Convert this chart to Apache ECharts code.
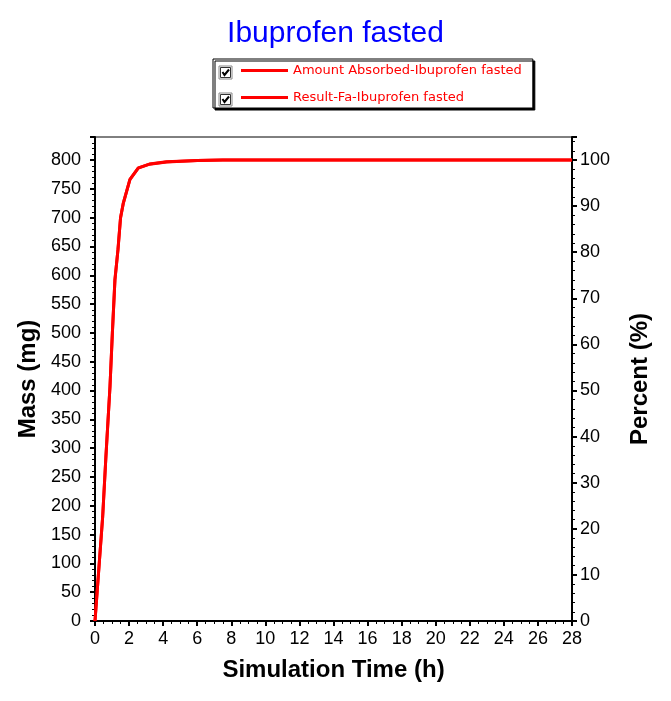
<!DOCTYPE html>
<html>
<head>
<meta charset="utf-8">
<script src="https://cdn.jsdelivr.net/npm/echarts@6/dist/echarts.min.js"></script>
<style>
  html, body { margin: 0; padding: 0; background: #fff; }
  #chart { width: 671px; height: 701px; }
</style>
</head>
<body>
<div id="chart"></div>
<script>
// simulation time (h) and values
var timeH = [0, 0.1, 0.45, 0.64, 0.88, 1.02, 1.17, 1.35, 1.5, 1.66, 2.05, 2.54, 3.2, 4.2, 6, 7.5, 28]
var massMg = [0, 0, 181, 285, 407, 500, 592, 645, 700, 725, 766, 786, 793, 797, 799, 800, 800]
var faPercent = [0, 0, 22.6, 35.6, 50.9, 62.5, 74, 80.6, 87.5, 90.6, 95.8, 98.3, 99.1, 99.6, 99.9, 100, 100]
var seriesNames = ['Amount Absorbed-Ibuprofen fasted', 'Result-Fa-Ibuprofen fasted']

function pairs(xs, ys) {
  var out = []
  for (var i = 0; i < xs.length; i++) out.push([xs[i], ys[i]])
  return out
}

var font = '"Liberation Sans", Arial, sans-serif'
var chart = echarts.init(document.getElementById('chart'))

function checkbox(y) {
  return {
    type: 'group',
    left: 218,
    top: y,
    z: 100,
    children: [
      { type: 'rect', z: 100, shape: { x: 0, y: 0, width: 13, height: 13 },
        style: { fill: '#fff', stroke: '#888', lineWidth: 1 } },
      { type: 'rect', z: 100, shape: { x: 1.5, y: 1.5, width: 10, height: 10 },
        style: { fill: 'none', stroke: '#333', lineWidth: 1 } },
      { type: 'polyline', z: 101, shape: { points: [[3.5, 6], [5.5, 9], [10, 3.5]] },
        style: { fill: 'none', stroke: '#000', lineWidth: 2 } }
    ]
  }
}

var option = {
  animation: false,
  backgroundColor: '#fff',
  title: {
    text: 'Ibuprofen fasted',
    left: 'center',
    top: 14,
    textStyle: { color: '#0000ff', fontSize: 30, fontWeight: 'normal', fontFamily: font }
  },
  legend: {
    orient: 'vertical',
    left: 213,
    top: 59,
    padding: [5, 11, 4, 28],
    itemGap: 14,
    itemWidth: 47,
    itemHeight: 3,
    icon: 'rect',
    backgroundColor: '#fff',
    borderColor: '#000',
    borderWidth: 1,
    borderRadius: 0,
    shadowColor: '#000',
    shadowBlur: 0,
    shadowOffsetX: 2,
    shadowOffsetY: 2,
    textStyle: { color: '#ff0000', fontSize: 13, fontFamily: '"DejaVu Sans", sans-serif' },
    data: seriesNames
  },
  graphic: [checkbox(65), checkbox(92)],
  grid: {
    left: 95, right: 99, top: 137, bottom: 80,
    show: true, borderColor: '#000', borderWidth: 1
  },
  xAxis: {
    type: 'value',
    min: 0, max: 28, interval: 2,
    name: 'Simulation Time (h)',
    nameLocation: 'middle',
    nameGap: 37,
    nameTextStyle: { color: '#000', fontSize: 24, fontWeight: 'bold', fontFamily: font },
    axisLine: { lineStyle: { color: '#000', width: 2 } },
    axisTick: { show: true, length: 5, lineStyle: { color: '#000', width: 2 } },
    minorTick: { show: true, splitNumber: 4, length: 3, lineStyle: { color: '#000' } },
    axisLabel: { color: '#000', fontSize: 18, fontFamily: font, margin: 9 },
    splitLine: { show: false }
  },
  yAxis: [{
    type: 'value',
    position: 'left',
    min: 0, max: 840, interval: 50,
    name: 'Mass (mg)',
    nameLocation: 'middle',
    nameGap: 46,
    nameTextStyle: { color: '#000', fontSize: 24, fontWeight: 'bold', fontFamily: font },
    axisLine: { show: true, lineStyle: { color: '#000', width: 2 } },
    axisTick: { show: true, length: 5, lineStyle: { color: '#000', width: 2 } },
    minorTick: { show: true, splitNumber: 5, length: 3, lineStyle: { color: '#000' } },
    axisLabel: { color: '#000', fontSize: 18, fontFamily: font, margin: 14, showMaxLabel: false },
    splitLine: { show: false }
  }, {
    type: 'value',
    position: 'right',
    min: 0, max: 105, interval: 10,
    name: 'Percent (%)',
    nameLocation: 'middle',
    nameGap: 56,
    nameRotate: 90,
    nameTextStyle: { color: '#000', fontSize: 24, fontWeight: 'bold', fontFamily: font },
    axisLine: { show: true, lineStyle: { color: '#000', width: 2 } },
    axisTick: { show: true, length: 5, lineStyle: { color: '#000', width: 2 } },
    minorTick: { show: true, splitNumber: 5, length: 3, lineStyle: { color: '#000' } },
    axisLabel: { color: '#000', fontSize: 18, fontFamily: font, margin: 8, showMaxLabel: false },
    splitLine: { show: false }
  }],
  series: [{
    name: seriesNames[1],
    type: 'line',
    yAxisIndex: 1,
    data: pairs(timeH, faPercent),
    showSymbol: false,
    color: '#ff0000',
    lineStyle: { color: '#ff0000', width: 3 }
  }, {
    name: seriesNames[0],
    type: 'line',
    yAxisIndex: 0,
    data: pairs(timeH, massMg),
    showSymbol: false,
    color: '#ff0000',
    lineStyle: { color: '#ff0000', width: 3 }
  }]
}
chart.setOption(option)
</script>
</body>
</html>
